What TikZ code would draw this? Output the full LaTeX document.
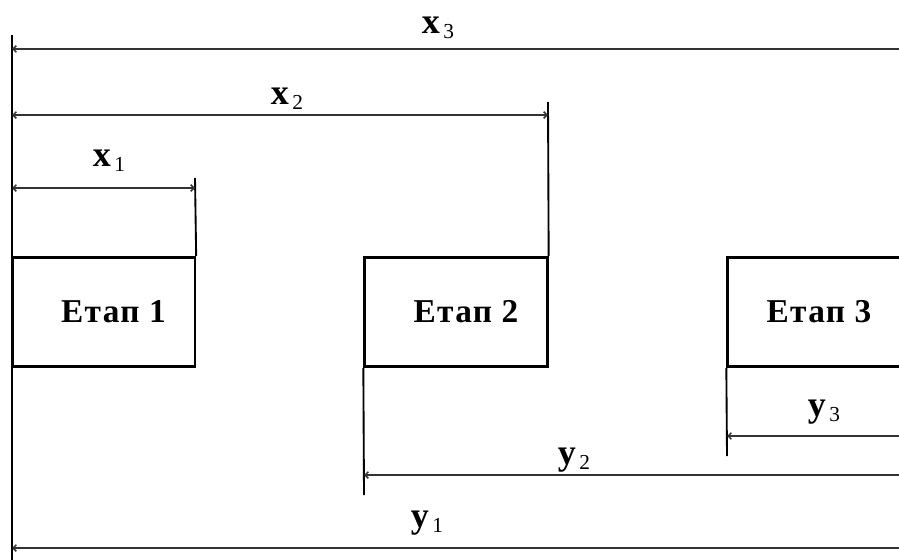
\documentclass[tikz,border=0pt]{standalone}
\usepackage{fontspec}
\setmainfont{Liberation Serif}
\usetikzlibrary{arrows.meta}

\newcommand{\dimlab}[2]{\textbf{#1}\raisebox{-0.3ex}{\fontsize{16}{16}\selectfont\,#2}}

\begin{document}
\begin{tikzpicture}[x=0.75pt, y=-0.75pt,
  tip/.tip={Straight Barb[length=2.5pt, width=5pt]},
  dimline/.style={line width=1.1pt, draw=black!80},
  edge/.style={line width=1.4pt},
  stage/.style={draw, line width=2pt, minimum width=137pt, minimum height=82pt,
                inner sep=0pt, font=\fontsize{25}{28}\selectfont\bfseries\addfontfeature{LetterSpace=4}},
  dimtext/.style={font=\fontsize{27}{30}\selectfont}]
  \clip (0,0) rectangle (899,560);

  % boxes: 183 x 110 px
  \node[stage] (E1) at (103.5,312) {\hspace*{15pt}Етап 1};
  \node[stage] (E2) at (456,312)   {\hspace*{15pt}Етап 2};
  \node[stage] (E3) at (819,312)   {Етап 3};

  \coordinate (Ltop) at (12,35);
  \coordinate (Lbot) at (12,562);
  \coordinate (X1t) at (195,178);
  \coordinate (X2t) at (548,102);
  \coordinate (Y2b) at (364,495);
  \coordinate (Y3b) at (727,456);

  % extension lines
  \draw[edge] (Ltop) -- (Lbot);
  \draw[edge] (X1t) -- (E1.north east);
  \draw[edge] (X2t) -- (E2.north east);
  \draw[edge] (E2.south west) -- (Y2b);
  \draw[edge] (E3.south west) -- (Y3b);

  % x dimensions
  \draw[dimline, {tip}-] (12,49) -- (905,49);
  \draw[dimline, {tip}-{tip}] (12,115) -- (X2t |- 0,115);
  \draw[dimline, {tip}-{tip}] (12,188) -- (X1t |- 0,188);
  \node[dimtext] (x3) at (438,28)  {\dimlab{x}{3}};
  \node[dimtext] (x2) at (287,99) {\dimlab{x}{2}};
  \node[dimtext] (x1) at (109,161) {\dimlab{x}{1}};

  % y dimensions
  \draw[dimline, {tip}-] (Y3b |- 0,436) -- (905,436);
  \draw[dimline, {tip}-] (Y2b |- 0,475) -- (905,475);
  \draw[dimline, {tip}-] (12,548) -- (905,548);
  \node[dimtext] (y3) at (824,412) {\dimlab{y}{3}};
  \node[dimtext] (y2) at (574,460) {\dimlab{y}{2}};
  \node[dimtext] (y1) at (427,523) {\dimlab{y}{1}};
\end{tikzpicture}
\end{document}
